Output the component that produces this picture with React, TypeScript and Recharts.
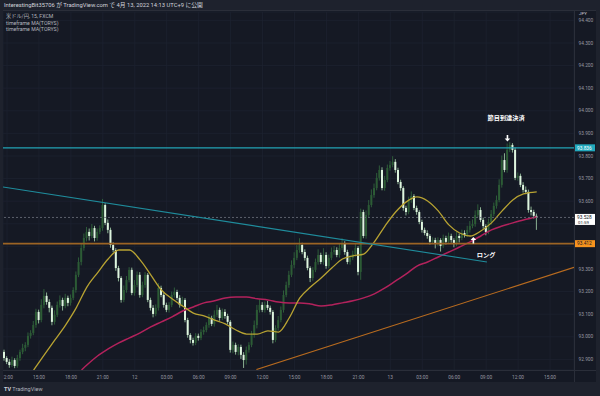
import { Bar, CartesianGrid, ComposedChart, Line, ReferenceDot, ReferenceLine, XAxis, YAxis } from 'recharts';

// USD/JPY 15m candles, Apr 11 11:30 -> Apr 13 (one entry per bar)
const opens = [
  92.950, 92.933, 92.906, 92.889, 92.875, 92.897, 92.871, 92.906, 92.933, 92.951,
  92.964, 93.004, 93.017, 93.052, 93.110, 93.074, 93.141, 93.181, 93.154, 93.128,
  93.066, 93.097, 93.141, 93.163, 93.136, 93.172, 93.150, 93.172, 93.207, 93.274,
  93.331, 93.393, 93.437, 93.464, 93.446, 93.481, 93.437, 93.464, 93.481, 93.583,
  93.504, 93.473, 93.406, 93.384, 93.304, 93.260, 93.163, 93.207, 93.251, 93.296,
  93.194, 93.229, 93.274, 93.185, 93.229, 93.274, 93.163, 93.128, 93.101, 93.128,
  93.216, 93.185, 93.141, 93.119, 93.141, 93.185, 93.198, 93.172, 93.141, 93.163,
  93.074, 93.008, 92.986, 92.973, 93.004, 92.995, 93.021, 93.030, 93.052, 93.083,
  93.057, 93.097, 93.119, 93.083, 93.110, 93.092, 93.066, 92.942, 92.964, 92.933,
  92.955, 92.920, 92.897, 92.942, 92.964, 93.008, 93.052, 93.119, 93.141, 93.119,
  93.141, 93.128, 93.110, 92.986, 93.039, 93.074, 93.119, 93.185, 93.229, 93.274,
  93.318, 93.349, 93.384, 93.406, 93.375, 93.349, 93.304, 93.260, 93.296, 93.331,
  93.362, 93.331, 93.362, 93.313, 93.349, 93.375, 93.384, 93.362, 93.393, 93.411,
  93.375, 93.331, 93.349, 93.366, 93.393, 93.287, 93.552, 93.446, 93.539, 93.583,
  93.627, 93.658, 93.703, 93.738, 93.658, 93.694, 93.747, 93.760, 93.774, 93.738,
  93.685, 93.658, 93.570, 93.552, 93.605, 93.623, 93.570, 93.552, 93.508, 93.473,
  93.459, 93.446, 93.420, 93.428, 93.411, 93.428, 93.402, 93.437, 93.420, 93.446,
  93.428, 93.411, 93.446, 93.437, 93.459, 93.451, 93.473, 93.490, 93.499, 93.539,
  93.561, 93.517, 93.490, 93.464, 93.508, 93.543, 93.579, 93.605, 93.672, 93.782,
  93.738, 93.827, 93.849, 93.827, 93.703, 93.712, 93.672, 93.650, 93.641, 93.561,
  93.552, 93.535,
];

const highs = [
  92.962, 92.943, 92.914, 92.901, 92.912, 92.905, 92.920, 92.943, 92.969, 92.976,
  93.019, 93.029, 93.070, 93.124, 93.120, 93.166, 93.211, 93.196, 93.166, 93.138,
  93.117, 93.156, 93.183, 93.173, 93.190, 93.182, 93.187, 93.219, 93.289, 93.351,
  93.411, 93.457, 93.486, 93.479, 93.499, 93.491, 93.479, 93.493, 93.610, 93.591,
  93.519, 93.483, 93.418, 93.392, 93.314, 93.268, 93.227, 93.269, 93.308, 93.306,
  93.251, 93.289, 93.286, 93.244, 93.286, 93.282, 93.173, 93.140, 93.143, 93.238,
  93.226, 93.193, 93.151, 93.153, 93.200, 93.218, 93.208, 93.184, 93.177, 93.171,
  93.084, 93.016, 92.996, 93.016, 93.014, 93.033, 93.045, 93.064, 93.101, 93.093,
  93.117, 93.141, 93.129, 93.125, 93.122, 93.102, 93.074, 92.979, 92.974, 92.967,
  92.965, 92.932, 92.957, 92.976, 93.026, 93.072, 93.141, 93.166, 93.153, 93.156,
  93.159, 93.138, 93.118, 93.051, 93.092, 93.134, 93.205, 93.244, 93.292, 93.338,
  93.374, 93.406, 93.436, 93.416, 93.387, 93.359, 93.312, 93.308, 93.346, 93.387,
  93.372, 93.392, 93.374, 93.364, 93.395, 93.402, 93.396, 93.413, 93.436, 93.423,
  93.385, 93.361, 93.381, 93.413, 93.401, 93.567, 93.562, 93.559, 93.605, 93.652,
  93.678, 93.725, 93.758, 93.750, 93.712, 93.762, 93.778, 93.799, 93.786, 93.748,
  93.695, 93.666, 93.580, 93.620, 93.643, 93.631, 93.580, 93.560, 93.518, 93.483,
  93.471, 93.454, 93.440, 93.438, 93.440, 93.436, 93.452, 93.447, 93.461, 93.456,
  93.436, 93.466, 93.456, 93.474, 93.471, 93.491, 93.512, 93.519, 93.559, 93.586,
  93.573, 93.527, 93.498, 93.523, 93.561, 93.594, 93.625, 93.697, 93.802, 93.812,
  93.855, 93.861, 93.857, 93.837, 93.727, 93.722, 93.684, 93.665, 93.651, 93.576,
  93.562, 93.545,
];

const lows = [
  92.923, 92.894, 92.879, 92.863, 92.867, 92.861, 92.863, 92.894, 92.923, 92.936,
  92.954, 92.992, 93.007, 93.040, 93.059, 93.064, 93.126, 93.142, 93.108, 93.051,
  93.054, 93.087, 93.129, 93.116, 93.126, 93.135, 93.138, 93.162, 93.195, 93.264,
  93.316, 93.381, 93.422, 93.426, 93.436, 93.422, 93.425, 93.454, 93.469, 93.494,
  93.458, 93.394, 93.374, 93.292, 93.245, 93.151, 93.153, 93.195, 93.241, 93.184,
  93.182, 93.219, 93.173, 93.175, 93.217, 93.153, 93.116, 93.086, 93.091, 93.116,
  93.175, 93.129, 93.109, 93.107, 93.131, 93.173, 93.162, 93.129, 93.131, 93.064,
  92.996, 92.971, 92.961, 92.963, 92.983, 92.985, 93.009, 93.020, 93.040, 93.047,
  93.045, 93.087, 93.071, 93.073, 93.080, 93.056, 92.930, 92.927, 92.921, 92.918,
  92.902, 92.862, 92.877, 92.930, 92.954, 92.996, 93.037, 93.107, 93.109, 93.107,
  93.118, 93.098, 92.971, 92.976, 93.027, 93.064, 93.107, 93.175, 93.217, 93.264,
  93.303, 93.339, 93.372, 93.365, 93.337, 93.294, 93.242, 93.248, 93.286, 93.319,
  93.321, 93.319, 93.301, 93.303, 93.339, 93.363, 93.352, 93.350, 93.383, 93.363,
  93.321, 93.319, 93.339, 93.354, 93.272, 93.252, 93.436, 93.434, 93.527, 93.573,
  93.615, 93.648, 93.691, 93.648, 93.646, 93.684, 93.735, 93.750, 93.726, 93.675,
  93.646, 93.558, 93.537, 93.542, 93.593, 93.560, 93.540, 93.498, 93.461, 93.449,
  93.434, 93.408, 93.410, 93.391, 93.401, 93.377, 93.392, 93.408, 93.410, 93.416,
  93.396, 93.401, 93.417, 93.427, 93.439, 93.441, 93.461, 93.480, 93.487, 93.529,
  93.507, 93.478, 93.449, 93.454, 93.496, 93.533, 93.567, 93.595, 93.660, 93.728,
  93.726, 93.817, 93.815, 93.693, 93.691, 93.662, 93.638, 93.631, 93.549, 93.537,
  93.523, 93.473,
];

const closes = [
  92.933, 92.906, 92.889, 92.875, 92.897, 92.871, 92.906, 92.933, 92.951, 92.964,
  93.004, 93.017, 93.052, 93.110, 93.074, 93.141, 93.181, 93.154, 93.128, 93.066,
  93.097, 93.141, 93.163, 93.136, 93.172, 93.150, 93.172, 93.207, 93.274, 93.331,
  93.393, 93.437, 93.464, 93.446, 93.481, 93.437, 93.464, 93.481, 93.583, 93.504,
  93.473, 93.406, 93.384, 93.304, 93.260, 93.163, 93.207, 93.251, 93.296, 93.194,
  93.229, 93.274, 93.185, 93.229, 93.274, 93.163, 93.128, 93.101, 93.128, 93.216,
  93.185, 93.141, 93.119, 93.141, 93.185, 93.198, 93.172, 93.141, 93.163, 93.074,
  93.008, 92.986, 92.973, 93.004, 92.995, 93.021, 93.030, 93.052, 93.083, 93.057,
  93.097, 93.119, 93.083, 93.110, 93.092, 93.066, 92.942, 92.964, 92.933, 92.955,
  92.920, 92.897, 92.942, 92.964, 93.008, 93.052, 93.119, 93.141, 93.119, 93.141,
  93.128, 93.110, 92.986, 93.039, 93.074, 93.119, 93.185, 93.229, 93.274, 93.318,
  93.349, 93.384, 93.406, 93.375, 93.349, 93.304, 93.260, 93.296, 93.331, 93.362,
  93.331, 93.362, 93.313, 93.349, 93.375, 93.384, 93.362, 93.393, 93.411, 93.375,
  93.331, 93.349, 93.366, 93.393, 93.287, 93.552, 93.446, 93.539, 93.583, 93.627,
  93.658, 93.703, 93.738, 93.658, 93.694, 93.747, 93.760, 93.774, 93.738, 93.685,
  93.658, 93.570, 93.552, 93.605, 93.623, 93.570, 93.552, 93.508, 93.473, 93.459,
  93.446, 93.420, 93.428, 93.411, 93.428, 93.402, 93.437, 93.420, 93.446, 93.428,
  93.411, 93.446, 93.437, 93.459, 93.451, 93.473, 93.490, 93.499, 93.539, 93.561,
  93.517, 93.490, 93.464, 93.508, 93.543, 93.579, 93.605, 93.672, 93.782, 93.738,
  93.827, 93.849, 93.827, 93.703, 93.712, 93.672, 93.650, 93.641, 93.561, 93.552,
  93.535, 93.528,
];

// the two "timeframe MA" lines
const fastIdx = [12, 16, 20, 24, 28, 32, 36, 40, 44, 48, 52, 56, 60, 64, 68, 72, 76, 80, 84, 88, 92, 96, 100, 104, 108, 112, 116, 120, 124, 128, 132, 136, 140, 144, 148, 152, 156, 160, 164, 168, 172, 176, 180, 184, 188, 192, 196, 201];
const fastMa = [
  92.853, 92.920, 92.986, 93.052, 93.128, 93.220, 93.283, 93.344, 93.384, 93.384,
  93.340, 93.274, 93.207, 93.168, 93.136, 93.105, 93.092, 93.074, 93.057, 93.030,
  93.012, 93.012, 93.026, 93.021, 93.083, 93.172, 93.220, 93.260, 93.304, 93.344,
  93.358, 93.366, 93.420, 93.490, 93.552, 93.597, 93.619, 93.601, 93.557, 93.495,
  93.459, 93.446, 93.468, 93.504, 93.557, 93.605, 93.632, 93.641,
];
const slowIdx = [30, 32, 36, 40, 44, 48, 52, 56, 60, 64, 68, 72, 76, 80, 84, 88, 92, 96, 100, 104, 108, 112, 116, 120, 124, 128, 132, 136, 140, 144, 148, 152, 156, 160, 164, 168, 172, 176, 180, 184, 188, 192, 196, 201];
const slowMa = [
  92.853, 92.875, 92.915, 92.946, 92.973, 92.995, 93.017, 93.044, 93.066, 93.088,
  93.114, 93.132, 93.150, 93.159, 93.172, 93.176, 93.176, 93.168, 93.163, 93.154,
  93.150, 93.150, 93.145, 93.136, 93.141, 93.150, 93.159, 93.172, 93.190, 93.216,
  93.247, 93.278, 93.313, 93.331, 93.353, 93.375, 93.397, 93.420, 93.446, 93.473,
  93.490, 93.504, 93.517, 93.530,
];

const timeTicks = [2, 14, 26, 38, 50, 62, 74, 86, 98, 110, 122, 134, 146, 158, 170, 182, 194, 206];
const timeLabels = ['12:00', '15:00', '18:00', '21:00', '12', '03:00', '06:00', '09:00', '12:00', '15:00', '18:00', '21:00', '13', '03:00', '06:00', '09:00', '12:00', '15:00'];
const priceTicks = [92.9, 93.0, 93.1, 93.2, 93.3, 93.4, 93.5, 93.6, 93.7, 93.8, 93.9, 94.0, 94.1, 94.2, 94.3, 94.4];
// these two sit under the price tags on the scale
const hiddenPriceLabels = [93.4, 93.5];

const rows = closes.map((c, i) => ({
  i,
  o: opens[i],
  h: highs[i],
  l: lows[i],
  c,
  range: [lows[i], highs[i]],
  fast: null as number | null,
  slow: null as number | null,
}));
fastIdx.forEach((k, j) => { rows[k].fast = fastMa[j]; });
slowIdx.forEach((k, j) => { rows[k].slow = slowMa[j]; });

const font = 'Roboto, "Noto Sans CJK JP", sans-serif';
const axisText = { fontSize: 4.8, fill: '#9598a1', fontFamily: font };

const Candle = (props: any) => {
  const { x, y, width, height, payload } = props;
  if (!payload || x == null) return null;
  const top = Math.min(y, y + height);
  const bottom = Math.max(y, y + height);
  const span = payload.h - payload.l;
  const toY = (p: number) => (span > 0 ? top + ((payload.h - p) / span) * (bottom - top) : top);
  const cx = x + width / 2;
  const up = payload.c >= payload.o;
  const yo = toY(payload.o);
  const yc = toY(payload.c);
  const bodyTop = Math.min(yo, yc);
  const bodyH = Math.max(Math.abs(yc - yo), 0.8);
  return (
    <g>
      <line x1={cx} x2={cx} y1={top} y2={bottom} stroke={up ? '#356d40' : '#a9d8ae'} strokeWidth={0.8} />
      <rect x={cx - 1} y={bodyTop} width={2} height={bodyH} fill={up ? '#2c5b35' : '#def5df'} />
    </g>
  );
};

const Tag = ({ viewBox, text, bg, fg }: any) => {
  if (!viewBox) return null;
  const x = viewBox.x + viewBox.width;
  const y = viewBox.y;
  return (
    <g>
      <rect x={x} y={y - 3.5} width={21} height={7} fill={bg} />
      <text x={x + 3} y={y + 1.8} fontSize={4.8} fill={fg} fontFamily={font}>{text}</text>
    </g>
  );
};

const LastTag = ({ viewBox }: any) => {
  if (!viewBox) return null;
  const x = viewBox.x + viewBox.width;
  const y = viewBox.y;
  return (
    <g>
      <rect x={x} y={y - 3.5} width={21} height={11} fill="#ffffff" />
      <text x={x + 3} y={y + 1.8} fontSize={4.8} fill="#131722" fontFamily={font}>93.528</text>
      <text x={x + 4} y={y + 6.3} fontSize={4.4} fill="#131722" fontFamily={font}>01:59</text>
    </g>
  );
};

const DownArrow = ({ cx, cy }: any) => (
  <path
    d={`M${cx - 0.8},${cy - 3.5} L${cx + 0.8},${cy - 3.5} L${cx + 0.8},${cy} L${cx + 2.8},${cy} L${cx},${cy + 3} L${cx - 2.8},${cy} L${cx - 0.8},${cy} Z`}
    fill="#ffffff"
  />
);

const UpArrow = ({ cx, cy }: any) => (
  <path
    d={`M${cx - 0.8},${cy + 3.5} L${cx + 0.8},${cy + 3.5} L${cx + 0.8},${cy} L${cx + 2.8},${cy} L${cx},${cy - 3} L${cx - 2.8},${cy} L${cx - 0.8},${cy} Z`}
    fill="#ffffff"
  />
);

const Note = ({ cx, cy, text }: any) => (
  <text x={cx} y={cy + 2.2} textAnchor="middle" fontSize={6.2} fontWeight="bold" fill="#ffffff" fontFamily={font}>
    {text}
  </text>
);

const legendStyle = { position: 'absolute' as const, left: 6, fontSize: 5.2, color: '#b2b5be', whiteSpace: 'nowrap' as const, lineHeight: '6px' };

export default function App() {
  return (
    <div style={{ position: 'absolute', left: 0, top: 0, width: 600, height: 396, background: '#1e222d', overflow: 'hidden', fontFamily: font }}>
      <div style={{ position: 'absolute', left: 4, top: 1, fontSize: 5.8, color: '#d1d4dc', whiteSpace: 'nowrap', lineHeight: '8px' }}>
        InterestingBit35706 が TradingView.com で 4月 13, 2022 14:13 UTC+9 に公開
      </div>
      <div style={{ position: 'absolute', left: 3, top: 10, width: 593, height: 372, background: '#151924' }}>
        <ComposedChart width={593} height={372} data={rows} margin={{ top: 2, right: 0, bottom: 0, left: 0 }}>
          <CartesianGrid stroke="#1d2230" strokeWidth={0.8} />
          <XAxis
            dataKey="i"
            type="number"
            domain={[0.5, 215]}
            allowDataOverflow
            ticks={timeTicks}
            interval={0}
            tickFormatter={(v: number) => timeLabels[timeTicks.indexOf(v)] ?? ''}
            tick={axisText}
            tickLine={false}
            axisLine={false}
            tickSize={0}
            tickMargin={5.5}
            height={12}
          />
          <YAxis
            orientation="right"
            type="number"
            domain={[92.853, 94.437]}
            allowDataOverflow
            ticks={priceTicks}
            interval={0}
            tickFormatter={(v: number) => (hiddenPriceLabels.includes(v) ? '' : v.toFixed(3))}
            tick={{ ...axisText, textAnchor: 'start' }}
            tickLine={false}
            axisLine={false}
            tickSize={0}
            tickMargin={4.5}
            width={22}
          />
          <Bar dataKey="range" barSize={2} shape={(p: any) => <Candle {...p} />} isAnimationActive={false} />
          <Line dataKey="slow" type="monotone" stroke="#b3225c" strokeWidth={1.5} dot={false} activeDot={false} connectNulls isAnimationActive={false} />
          <Line dataKey="fast" type="monotone" stroke="#b8a332" strokeWidth={1.3} dot={false} activeDot={false} connectNulls isAnimationActive={false} />
          <ReferenceLine y={93.836} stroke="#22a3b5" strokeWidth={1.3} ifOverflow="visible" label={<Tag text="93.836" bg="#22a9bd" fg="#ffffff" />} />
          <ReferenceLine y={93.412} stroke="#9c6424" strokeWidth={1.8} ifOverflow="visible" label={<Tag text="93.412" bg="#f7931e" fg="#131722" />} />
          <ReferenceLine y={93.528} stroke="#6f737e" strokeWidth={0.8} strokeDasharray="2 2" ifOverflow="visible" label={<LastTag />} />
          <ReferenceLine segment={[{ x: 0.5, y: 93.663 }, { x: 182.3, y: 93.331 }]} stroke="#1f8c9c" strokeWidth={1.1} ifOverflow="hidden" />
          <ReferenceLine segment={[{ x: 95.7, y: 92.855 }, { x: 215, y: 93.307 }]} stroke="#b86b1f" strokeWidth={1.1} ifOverflow="hidden" />
          <ReferenceDot x={190} y={93.877} r={0} ifOverflow="visible" shape={(p: any) => <DownArrow {...p} />} />
          <ReferenceDot x={189.5} y={93.968} r={0} ifOverflow="visible" shape={(p: any) => <Note {...p} text="節目到達決済" />} />
          <ReferenceDot x={177.2} y={93.428} r={0} ifOverflow="visible" shape={(p: any) => <UpArrow {...p} />} />
          <ReferenceDot x={182} y={93.364} r={0} ifOverflow="visible" shape={(p: any) => <Note {...p} text="ロング" />} />
        </ComposedChart>
      </div>
      {/* pane borders */}
      <div style={{ position: 'absolute', left: 574, top: 10, width: 1, height: 372, background: '#2a2e39' }} />
      <div style={{ position: 'absolute', left: 3, top: 370, width: 593, height: 1, background: '#2a2e39' }} />
      <div style={{ position: 'absolute', left: 3, top: 10, width: 593, height: 1, background: '#2a2e39' }} />
      <div style={{ ...legendStyle, top: 13 }}>米ドル/円, 15, FXCM</div>
      <div style={{ ...legendStyle, top: 19.5 }}>timeframe MA(TORYS)</div>
      <div style={{ ...legendStyle, top: 26 }}>timeframe MA(TORYS)</div>
      <div style={{ position: 'absolute', left: 579, top: 11, fontSize: 4.4, color: '#d1d4dc', lineHeight: '5px' }}>JPY</div>
      <div style={{ position: 'absolute', left: 4, top: 386, fontSize: 5.5, color: '#b2b5be', whiteSpace: 'nowrap', lineHeight: '7px' }}>
        <b style={{ color: '#d1d4dc' }}>TV</b> TradingView
      </div>
    </div>
  );
}
